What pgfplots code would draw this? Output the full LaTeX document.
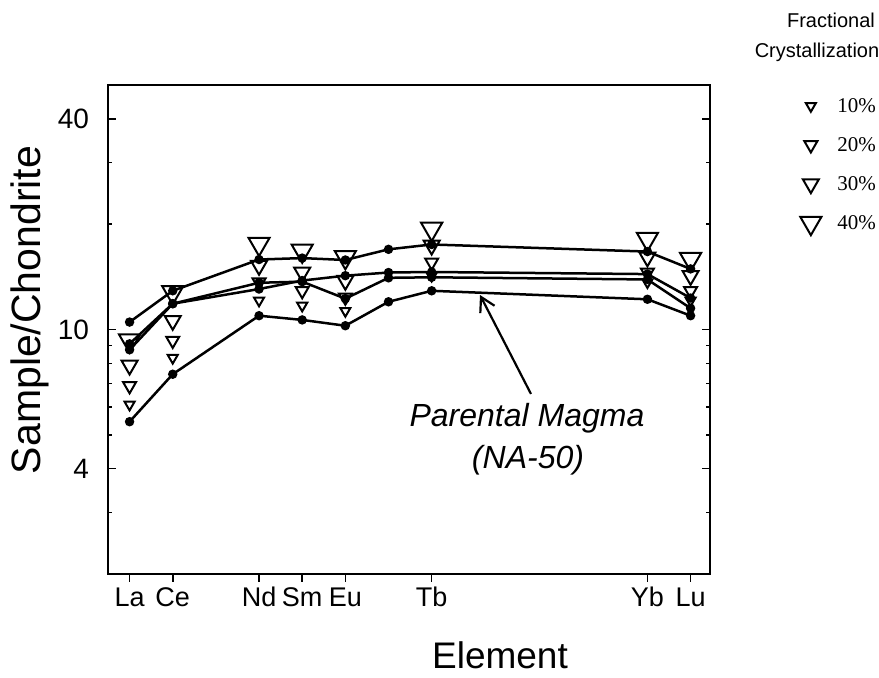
\documentclass[border=0pt]{standalone}
\usepackage{fontspec}
\setmainfont{Liberation Sans}
\newfontfamily\legserif{Liberation Serif}
\usepackage{pgfplots}
\pgfplotsset{compat=1.18}
\usetikzlibrary{arrows.meta}
\begin{document}
\begin{tikzpicture}
\begin{axis}[
  at={(0pt,0pt)}, anchor=south west,
  scale only axis, width=301pt, height=244.5pt,
  ymode=log, ymin=2, ymax=50,
  xmin=-0.5, xmax=13.45,
  axis line style={line width=1.1pt},
  xtick={0,1,3,4,5,7,12,13},
  xticklabels={La,Ce,Nd,Sm,Eu,Tb,Yb,Lu},
  xtick pos=bottom, xtick align=outside,
  ytick={4,10,40}, yticklabels={4,10,40},
  minor ytick={3,5,6,7,8,9,20,30},
  ytick pos=both, ytick align=inside,
  major tick length=4pt, minor tick length=2.2pt,
  tick style={black, line width=0.8pt},
  x tick label style={font=\fontsize{13.5}{13.5}\selectfont, inner sep=2pt, text height=10pt, text depth=0pt},
  y tick label style={font=\fontsize{14}{14}\selectfont, xshift=-6pt},
  /pgf/number format/assume math mode=true,
  legend style={draw=none, fill=none, inner sep=0pt, outer sep=0pt,
    at={(1.150,0.9755)}, anchor=north west,
    font=\legserif\fontsize{10.5}{10.5}\selectfont,
    nodes={inner sep=0pt, text height=8pt, text depth=2pt, anchor=base west},
    row sep=9.5pt, column sep=8pt},
  legend cell align=left,
  legend image code/.code={\draw[mark repeat=2,mark phase=2,#1] plot coordinates {(0pt,3.5pt)(4.25pt,3.5pt)(8.5pt,3.5pt)};},
]
% Parental magma NA-50
\addplot[black, line width=1.25pt, mark=*, mark size=1.7pt, forget plot] coordinates {
(0,5.45) (1,7.45) (3,10.95) (4,10.65) (5,10.25) (6,12.0) (7,12.9) (12,12.2) (13,10.95)};
% upper sample
\addplot[black, line width=1.25pt, mark=*, mark size=1.7pt, forget plot] coordinates {
(0,10.5) (1,12.9) (3,15.85) (4,16.0) (5,15.8) (6,16.95) (7,17.5) (12,16.7) (13,14.9)};
% middle sample A
\addplot[black, line width=1.25pt, mark=*, mark size=1.7pt, forget plot] coordinates {
(0,8.75) (1,11.85) (3,13.6) (4,13.7) (5,12.25) (6,14.05) (7,14.1) (12,13.9) (13,11.5)};
% middle sample B
\addplot[black, line width=1.25pt, mark=*, mark size=1.7pt, forget plot] coordinates {
(0,9.1) (1,11.85) (3,13.05) (4,13.8) (5,14.25) (6,14.55) (7,14.6) (12,14.4) (13,12.3)};
% fractional crystallization
\addplot[only marks, black, mark=triangle, mark size=2.9pt, mark options={rotate=180, line width=1pt}] coordinates {
(0,6.1) (1,8.3) (3,12.1) (4,11.7) (5,11.3) (7,14.25) (12,13.65) (13,12.1)};
\addlegendentry{10\%}
\addplot[only marks, black, mark=triangle, mark size=3.75pt, mark options={rotate=180, line width=1pt}] coordinates {
(0,6.9) (1,9.3) (3,13.65) (4,12.9) (5,12.36) (7,15.56) (12,14.57) (13,12.9)};
\addlegendentry{20\%}
\addplot[only marks, black, mark=triangle, mark size=4.6pt, mark options={rotate=180, line width=1pt}] coordinates {
(0,7.9) (1,10.6) (3,15.23) (4,14.57) (5,13.8) (7,17.4) (12,16.1) (13,14.25)};
\addlegendentry{30\%}
\addplot[only marks, black, mark=triangle, mark size=6.1pt, mark options={rotate=180, line width=1pt}] coordinates {
(0,9.3) (1,12.78) (3,17.57) (4,16.8) (5,16.1) (7,19.4) (12,18.15) (13,15.9)};
\addlegendentry{40\%}
\end{axis}
\node[rotate=90, font=\fontsize{20.5}{20.5}\selectfont] at (-39pt,132pt) {Sample/Chondrite};
\node[font=\fontsize{18.5}{18.5}\selectfont] at (196pt,-40.5pt) {Element};
\node[font=\itshape\fontsize{16}{16}\selectfont] at (209.5pt,78pt) {Parental Magma};
\node[font=\itshape\fontsize{16}{16}\selectfont] at (210pt,57pt) {(NA-50)};
\draw[line width=1.1pt, -{Straight Barb[length=7pt,width=8pt]}] (211.5pt,90pt) -- (186pt,139.5pt);
\node[font=\fontsize{10}{10}\selectfont] at (361.5pt,277pt) {Fractional};
\node[font=\fontsize{10}{10}\selectfont] at (354.5pt,261pt) {Crystallization};
\pgfresetboundingbox
\path[use as bounding box] (-54pt,-52pt) rectangle (385.5pt,287pt);
\end{tikzpicture}
\end{document}
